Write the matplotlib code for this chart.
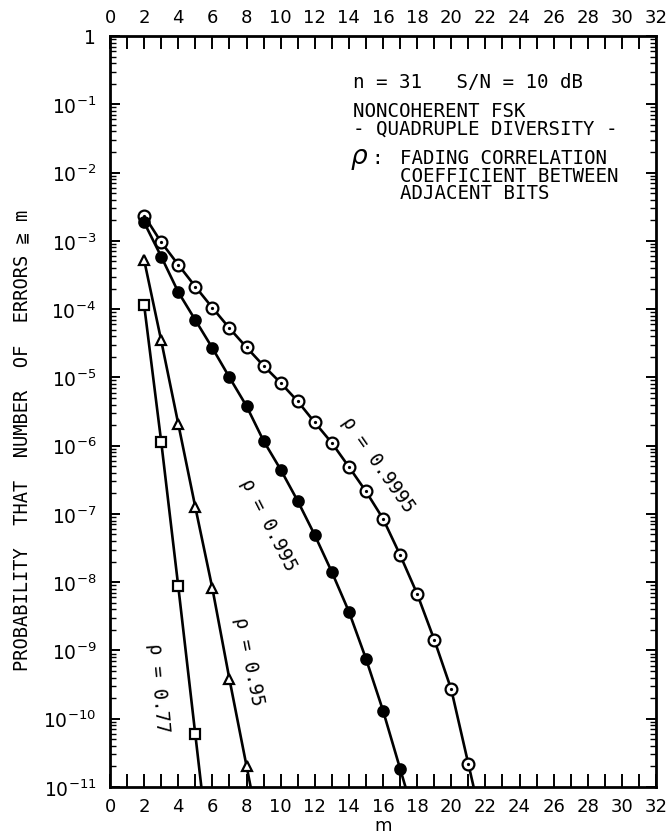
import numpy as np
import matplotlib
matplotlib.use("Agg")
import matplotlib.pyplot as plt
from matplotlib.ticker import MultipleLocator, LogLocator, NullFormatter, FixedLocator, FixedFormatter

plt.rcParams['font.family'] = ['DejaVu Sans', 'Noto Sans CJK JP']
plt.rcParams['mathtext.fontset'] = 'dejavusans'
MONO = ['DejaVu Sans Mono', 'DejaVu Sans', 'Noto Sans CJK JP']

# ---- data (P = probability, log10 values) ----
m_0_9995 = list(range(2, 22))
logp_0_9995 = [-2.63, -3.02, -3.35, -3.67, -3.98, -4.28, -4.56, -4.83, -5.08, -5.35,
               -5.66, -5.96, -6.31, -6.67, -7.07, -7.60, -8.17, -8.84, -9.57, -10.66]

m_0_995 = list(range(2, 18))
logp_0_995 = [-2.73, -3.23, -3.75, -4.16, -4.57, -5.00, -5.42, -5.93, -6.35, -6.81,
              -7.31, -7.85, -8.43, -9.12, -9.88, -10.73]

m_0_95 = list(range(2, 9))
logp_0_95 = [-3.28, -4.46, -5.68, -6.90, -8.09, -9.42, -10.69]

m_0_77 = list(range(2, 6))
logp_0_77 = [-3.94, -5.94, -8.06, -10.23]

x_ticks = list(range(0, 33, 2))
x_ticklabels = [str(v) for v in x_ticks]
y_exponents = list(range(0, -12, -1))
y_ticklabels = ['1'] + [r'$10^{%d}$' % e for e in y_exponents[1:]]

# ---- figure ----
fig = plt.figure(figsize=(6.72, 8.37), dpi=100)
ax = fig.add_axes([110/672, 1-788/837, 546/672, 751/837])
ax.set_yscale('log')
ax.set_xlim(0, 32)
ax.set_ylim(1e-11, 1)

def draw_series(ms, logps, marker, mfc, ms_size, dot=False):
    ms = np.asarray(ms, float)
    lp = np.asarray(logps, float)
    # extend the curve from the last segment down past the bottom axis
    slope = (lp[-1] - lp[-2]) / (ms[-1] - ms[-2])
    x_end = ms[-1] + (-11.5 - lp[-1]) / slope
    xs = np.append(ms, x_end)
    ys = np.append(lp, -11.5)
    ax.plot(xs, 10**ys, color='black', lw=1.9, zorder=2, solid_capstyle='butt')
    ax.plot(ms, 10**lp, linestyle='none', marker=marker, mfc=mfc, mec='black',
            mew=1.6, markersize=ms_size, zorder=3, clip_on=False)
    if dot:
        ax.plot(ms, 10**lp, linestyle='none', marker='o', color='black',
                markersize=1.3, zorder=4)

draw_series(m_0_9995, logp_0_9995, 'o', 'white', 8.5, dot=True)
draw_series(m_0_995, logp_0_995, 'o', 'black', 7.5)
draw_series(m_0_95, logp_0_95, '^', 'white', 7.5)
draw_series(m_0_77, logp_0_77, 's', 'white', 7.0)

# ---- axes styling ----
for s in ax.spines.values():
    s.set_linewidth(2.0)

ax.xaxis.set_major_locator(FixedLocator(x_ticks))
ax.xaxis.set_major_formatter(FixedFormatter(x_ticklabels))
ax.xaxis.set_minor_locator(MultipleLocator(1))
ax.yaxis.set_major_locator(FixedLocator([10.0**e for e in y_exponents]))
ax.yaxis.set_major_formatter(FixedFormatter(y_ticklabels))
ax.yaxis.set_minor_locator(LogLocator(base=10, subs=np.arange(2, 10), numticks=30))
ax.yaxis.set_minor_formatter(NullFormatter())

ax.tick_params(axis='x', which='both', direction='in', length=9.5, width=1.4,
               top=True, bottom=True, labeltop=True, labelbottom=True,
               labelsize=13, pad=7)
ax.tick_params(axis='y', which='major', direction='in', length=7, width=1.4,
               left=True, right=True, labelsize=13.5, pad=10)
ax.tick_params(axis='y', which='minor', direction='in', length=4, width=1.0,
               left=True, right=True)

ax.set_xlabel('m', fontsize=13, labelpad=1)
fig.text(22/672, 1-440/837, 'PROBABILITY  THAT  NUMBER  OF  ERRORS ≧ m',
         rotation=90, ha='center', va='center', fontsize=13.5, family=MONO)

# ---- annotation block ----
tk = dict(transform=ax.transAxes, fontsize=13.8, ha='left', va='center', family=MONO)
ax.text(0.445, 0.939, 'n = 31   S/N = 10 dB', **tk)
ax.text(0.445, 0.901, 'NONCOHERENT FSK', **tk)
ax.text(0.445, 0.877, '- QUADRUPLE DIVERSITY -', **tk)
ax.text(0.440, 0.840, 'ρ', transform=ax.transAxes, fontsize=19, ha='left', va='center',
        style='italic')
ax.text(0.478, 0.838, ':', **tk)
ax.text(0.531, 0.838, 'FADING CORRELATION', **tk)
ax.text(0.531, 0.814, 'COEFFICIENT BETWEEN', **tk)
ax.text(0.531, 0.791, 'ADJACENT BITS', **tk)

# ---- curve labels ----
lk = dict(transform=ax.transAxes, fontsize=13.5, ha='center', va='center',
          rotation_mode='anchor', family=MONO)
ax.text(0.491, 0.430, 'ρ = 0.9995', rotation=-55, **lk)
ax.text(0.290, 0.350, 'ρ = 0.995', rotation=-63, **lk)
ax.text(0.255, 0.169, 'ρ = 0.95', rotation=-79, **lk)
ax.text(0.088, 0.133, 'ρ = 0.77', rotation=-85, **lk)

fig.savefig('out.png', dpi=100)
